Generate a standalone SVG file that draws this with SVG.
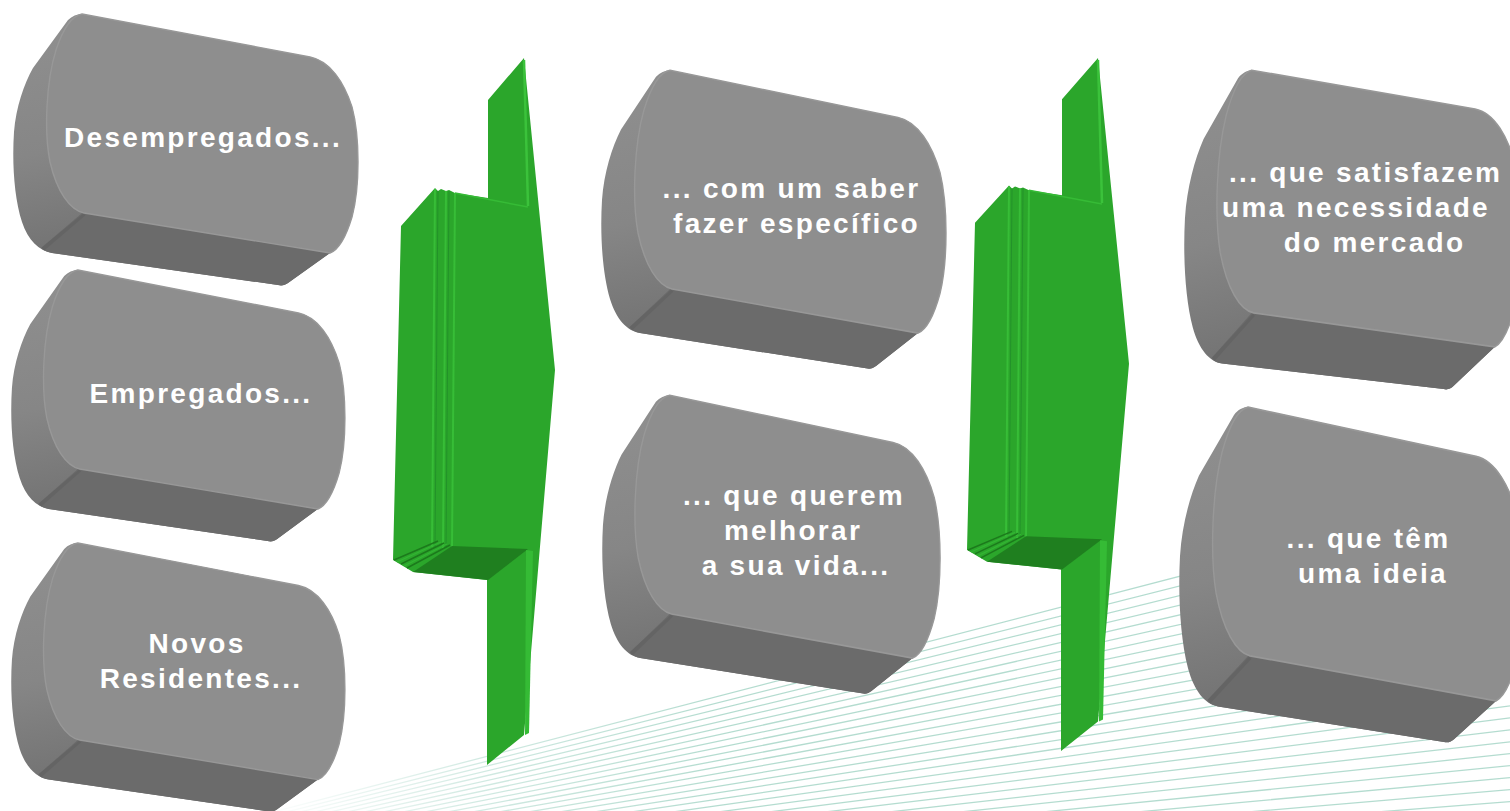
<svg xmlns="http://www.w3.org/2000/svg" xmlns:xlink="http://www.w3.org/1999/xlink" width="1510" height="811" viewBox="0 0 1510 811">
  <style>
    .t { font-family: "Liberation Sans", Arial, sans-serif; font-weight: bold; font-size: 28px; fill: #ffffff; letter-spacing: 2.3px; text-anchor: middle; }
    .ts { text-anchor: start; }
    .side { fill: url(#sideGrad); }
    .bottom { fill: #6b6b6b; }
    .front { fill: #8e8e8e; stroke: #989898; stroke-width: 1.4; }
    .crease { fill: none; stroke: #5f5f5f; stroke-width: 4; opacity: 0.55; }
    .green { fill: #2ba62b; }
    .gdark { fill: #1f7f1f; }
    .glight { fill: #35bb35; }
  </style>
  <defs>
    <linearGradient id="sideGrad" x1="0" y1="0" x2="0.25" y2="1">
      <stop offset="0" stop-color="#909090"/>
      <stop offset="0.5" stop-color="#868686"/>
      <stop offset="0.8" stop-color="#767676"/>
      <stop offset="1" stop-color="#6a6a6a"/>
    </linearGradient>
    <linearGradient id="lineGrad" gradientUnits="userSpaceOnUse" x1="260" y1="0" x2="720" y2="0">
      <stop offset="0" stop-color="#b0dacd" stop-opacity="0"/>
      <stop offset="0.5" stop-color="#b0dacd" stop-opacity="0.6"/>
      <stop offset="1" stop-color="#b0dacd" stop-opacity="0.95"/>
    </linearGradient>
    <clipPath id="lineClip">
      <polygon points="0,0 1200,0 1200,560 1510,700 1510,811 0,811"/>
    </clipPath>
    <g id="pill">
      <path class="side" d="M70,2 L298,45 C318,49 332,70 340,95 C348,125 348,175 340,205 C334,225 326,238 318,241 L276,271 C273,273 270,274 266,273 L40,241 C27,239 16,228 10,210 C2,185 0,150 2,120 C4,95 12,72 21,56 L56,8 C60,4 65,2 70,2 Z"/>
      <path class="bottom" d="M72,201 L318,241 L276,271 C273,273 270,274 266,273 L40,241 C36,240 32,239 29,236 Z"/>
      <path class="crease" d="M72,202 L31,237"/>
      <path class="front" d="M70,2 L298,45 C318,49 332,70 340,95 C348,125 348,175 340,205 C334,225 326,238 318,241 L72,201 C58,198 45,180 38,150 C32,120 34,70 44,38 C50,20 58,4 70,2 Z"/>
    </g>
    <g id="arrow">
      <path class="green" d="M488,100 L524,58 L555,370 L524,735 L487,765 L487,580 L413,572 L393,560 L401,226 L435,188 L438,191 L441,189 L446,191 L449,190 L455,193 L488,198 Z"/>
      <path d="M524,60 L528,206" stroke="#3bc23b" stroke-width="2.5" fill="none"/>
      <path d="M455,193 L528,207" stroke="#36bb36" stroke-width="1.5" fill="none"/>
      <path d="M435,189 L432,547 M446,191 L443,548 M455,193 L452,549" stroke="#37bd37" stroke-width="2" fill="none"/>
      <path d="M438,191 L435,547 M449,191 L446,548" stroke="#23922a" stroke-width="1" fill="none"/>
      <path class="gdark" d="M452,546 L528,549 L488,580 L413,572 Z"/>
      <path d="M394,560 L438,541 M401,564 L444,543 M407,568 L450,545" stroke="#1c7a1c" stroke-width="1.5" fill="none"/>
      <path d="M397,562 L441,542 M404,566 L447,544" stroke="#33b433" stroke-width="1.2" fill="none"/>
      <path class="glight" d="M526,550 L533,551 L529,733 L525,735 Z"/>
    </g>
  </defs>

  <rect x="0" y="0" width="1510" height="811" fill="#ffffff"/>

  <g id="background-lines" clip-path="url(#lineClip)">
    <path fill="none" stroke="url(#lineGrad)" stroke-width="1.3" d="M250,818 L1510,490.4 M250,821.2 L1510,502.4 M250,824.3 L1510,514.3 M250,827.5 L1510,526.3 M250,830.6 L1510,538.3 M250,833.8 L1510,550.3 M250,836.9 L1510,562.2 M250,840.1 L1510,574.2 M250,843.2 L1510,586.2 M250,846.4 L1510,598.1 M250,849.5 L1510,610.1 M250,852.7 L1510,622.1 M250,855.8 L1510,634 M250,859 L1510,646 M250,862.1 L1510,658 M250,865.3 L1510,670 M250,868.4 L1510,681.9 M250,871.6 L1510,693.9 M250,874.7 L1510,705.9 M250,877.9 L1510,717.8 M250,881 L1510,729.8 M250,884.2 L1510,741.8 M250,887.3 L1510,753.7 M250,890.5 L1510,765.7 M250,893.6 L1510,777.7 M250,896.8 L1510,789.7 M250,899.9 L1510,801.6 M250,903.1 L1510,813.6"/>
  </g>

  <g id="connectors">
    <g id="arrow-1"><use href="#arrow" xlink:href="#arrow"/></g>
    <g id="arrow-2"><use href="#arrow" xlink:href="#arrow" transform="translate(574,1.2) scale(1,0.98)"/></g>
  </g>

  <g id="node-desempregados">
    <use href="#pill" xlink:href="#pill" transform="translate(12,12)"/>
    <text class="t" x="203" y="147">Desempregados...</text>
  </g>
  <g id="node-empregados">
    <use href="#pill" xlink:href="#pill" transform="matrix(0.968,0,0,1.0,10,268)"/>
    <text class="t" x="201" y="403">Empregados...</text>
  </g>
  <g id="node-novos-residentes">
    <use href="#pill" xlink:href="#pill" transform="matrix(0.968,0,0,0.99,10,541)"/>
    <text class="t" x="197" y="653">Novos</text>
    <text class="t" x="201" y="688">Residentes...</text>
  </g>
  <g id="node-saber-fazer">
    <use href="#pill" xlink:href="#pill" transform="matrix(1,0,0,1.1,600,68)"/>
    <text class="t" x="791.5" y="198">... com um saber</text>
    <text class="t" x="796.5" y="233">fazer específico</text>
  </g>
  <g id="node-melhorar-vida">
    <use href="#pill" xlink:href="#pill" transform="matrix(0.98,0,0,1.1,601,393)"/>
    <text class="t" x="794" y="505">... que querem</text>
    <text class="t" x="793" y="540">melhorar</text>
    <text class="t" x="796" y="575">a sua vida...</text>
  </g>
  <g id="node-necessidade-mercado">
    <use href="#pill" xlink:href="#pill" transform="matrix(0.98,-0.06,0,1.22,1183,72)"/>
    <text class="t ts" x="1229" y="182">... que satisfazem</text>
    <text class="t ts" x="1222" y="217">uma necessidade</text>
    <text class="t" x="1374.5" y="252">do mercado</text>
  </g>
  <g id="node-ideia">
    <use href="#pill" xlink:href="#pill" transform="matrix(1,-0.02,0,1.25,1178,406)"/>
    <text class="t" x="1368.5" y="548">... que têm</text>
    <text class="t" x="1373" y="583">uma ideia</text>
  </g>
</svg>
